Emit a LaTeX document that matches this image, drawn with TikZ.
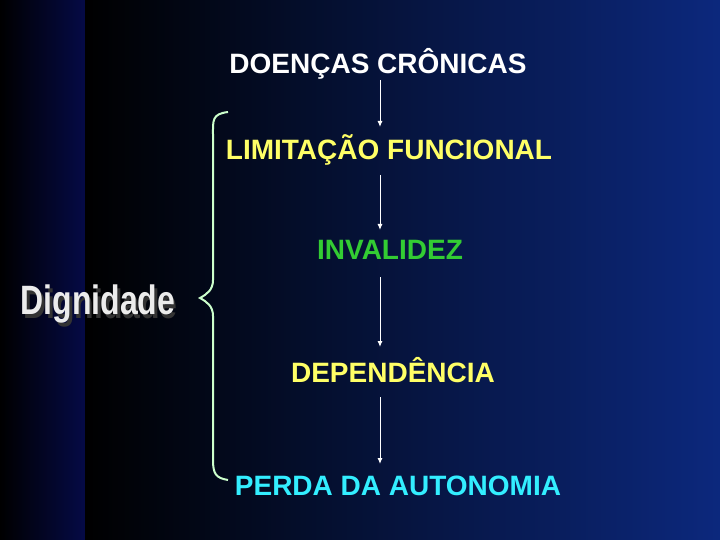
\documentclass[tikz,border=0pt]{standalone}
\usepackage{fontspec}
\setmainfont{Liberation Sans}
\usetikzlibrary{arrows.meta}
\definecolor{yel}{HTML}{FFFF66}
\definecolor{grn}{HTML}{33CC33}
\definecolor{cya}{HTML}{33EEFF}
\definecolor{brc}{HTML}{CCFFCC}
\begin{document}
\begin{tikzpicture}[x=1pt,y=-1pt,
  lbl/.style={font=\bfseries\fontsize{28}{30}\selectfont,inner sep=0pt},
  arr/.style={white,line width=1pt,-{Latex[length=6pt,width=5pt]}}]
\useasboundingbox (0,0) rectangle (720,540);
\shade[left color=black,right color={rgb,255:red,5;green,10;blue,70}] (0,0) rectangle (85,540);
\shade[left color=black,right color={rgb,255:red,12;green,40;blue,125}] (85,0) rectangle (720,540);
\node[lbl,white] (a) at (378,64) {DOENÇAS CRÔNICAS};
\node[lbl,yel] (b) at (389,150) {LIMITAÇÃO FUNCIONAL};
\node[lbl,grn] (c) at (390,250) {INVALIDEZ};
\node[lbl,yel] (d) at (393,370) {DEPENDÊNCIA};
\node[lbl,cya] (e) at (398,486) {PERDA DA AUTONOMIA};
\draw[arr] (380,80) -- (380,127);
\draw[arr] (380,175) -- (380,230);
\draw[arr] (380,277) -- (380,347);
\draw[arr] (380,397) -- (380,464);
\draw[brc,line width=2pt] (228,112) .. controls (212,114) and (213,120) .. (213,135)
  -- (213,280) .. controls (213,290) and (207,294) .. (200,298)
  .. controls (207,302) and (213,306) .. (213,316) -- (213,460)
  .. controls (213,474) and (216,478) .. (228,480);
\node[font=\bfseries\fontsize{41}{43}\selectfont,xscale=0.78,gray!15,inner sep=0pt] (g) at (98,306)
  {\rlap{\kern3pt\raisebox{-4pt}{\color{gray!40!black}Dignidade}}Dignidade};
\end{tikzpicture}
\end{document}
